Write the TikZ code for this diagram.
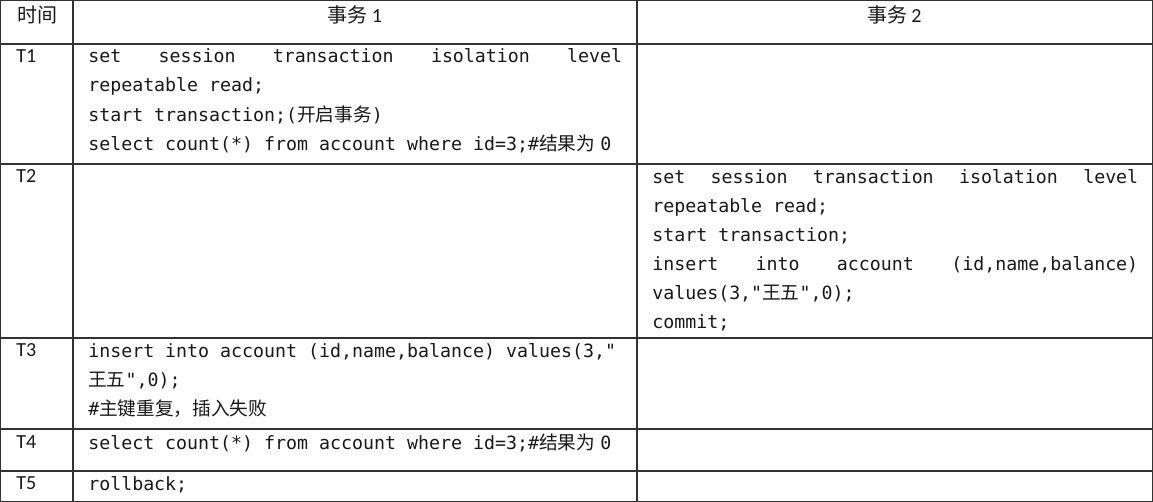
\documentclass[tikz,border=0pt]{standalone}
\usepackage{fontspec}
\setmainfont{Carlito}
\setmonofont{DejaVu Sans Mono}
\newfontfamily\cjk{Noto Sans CJK SC}
\definecolor{ln}{RGB}{50,50,50}
\definecolor{tx}{RGB}{25,25,25}
\newcommand\zh[1]{{\cjk\fontsize{14}{16}\selectfont #1}}
\newcommand\zhh[1]{{\cjk\fontsize{15}{17}\selectfont #1}}
\begin{document}
\begin{tikzpicture}[x=0.75pt,y=-0.75pt]
\tikzset{
  gridline/.style={draw=ln, line width=1.1pt},
  code/.style={anchor=mid west, inner sep=0pt, text=tx, font=\ttfamily\fontsize{13.7}{16}\selectfont},
  lbl/.style={anchor=mid west, inner sep=0pt, text=tx, font=\fontsize{15}{17}\selectfont},
  hdr/.style={anchor=mid, inner sep=0pt, text=tx, font=\fontsize{15}{17}\selectfont}
}
\useasboundingbox (0,0) rectangle (1153,502);
\fill[white] (0,0) rectangle (1153,502);
% table rules
\draw[gridline] (0.7,0.7) rectangle (1152.3,501.3);
\foreach \yy in {44,164,338,429,471} \draw[gridline] (0,\yy) -- (1153,\yy);
\foreach \xx in {73,637} \draw[gridline] (\xx,0) -- (\xx,502);
% header
\node[lbl] (h0) at (17,19) {\zhh{时间}};
\node[hdr] (h1) at (355,19) {\zhh{事务}\hspace{3pt}1};
\node[hdr] (h2) at (894.5,19) {\zhh{事务}\hspace{3pt}2};
% time labels
\node[lbl] (l1) at (16,59) {T1};
\node[lbl] (l2) at (16,179) {T2};
\node[lbl] (l3) at (16,353) {T3};
\node[lbl] (l4) at (16,445) {T4};
\node[lbl] (l5) at (16,486) {T5};
% T1
\node[code] (a1) at (88,59.5) {\makebox[400.5pt][l]{set\hfill session\hfill transaction\hfill isolation\hfill level}};
\node[code] (a2) at (88,88.8) {repeatable read;};
\node[code] (a3) at (88,118.1) {start transaction;(\zh{开启事务})};
\node[code] (a4) at (88,147.4) {select count(*) from account where id=3;\#\zh{结果为}\hspace{4pt}0};
% T2
\node[code] (b1) at (652,180) {\makebox[364.5pt][l]{set\hfill session\hfill transaction\hfill isolation\hfill level}};
\node[code] (b2) at (652,209) {repeatable read;};
\node[code] (b3) at (652,238) {start transaction;};
\node[code] (b4) at (652,267) {\makebox[364.5pt][l]{insert\hfill into\hfill account\hfill (id,name,balance)}};
\node[code] (b5) at (652,296) {values(3,"\zh{王五}",0);};
\node[code] (b6) at (652,325) {commit;};
% T3
\node[code] (c1) at (88,354) {insert into account (id,name,balance) values(3,"};
\node[code] (c2) at (88,383.5) {\zh{王五}",0);};
\node[code] (c3) at (88,412.5) {\#\zh{主键重复，插入失败}};
% T4
\node[code] (d1) at (88,446) {select count(*) from account where id=3;\#\zh{结果为}\hspace{4pt}0};
% T5
\node[code] (e1) at (88,487) {rollback;};
\end{tikzpicture}
\end{document}
